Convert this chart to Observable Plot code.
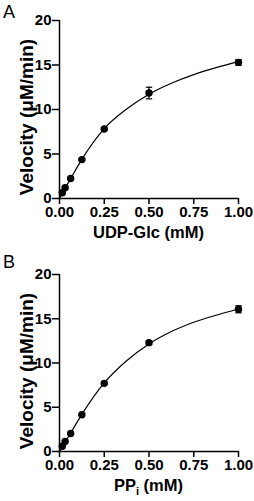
<!DOCTYPE html>
<html><head><meta charset="utf-8">
<script src="https://cdn.jsdelivr.net/npm/d3@7"></script>
<script src="https://cdn.jsdelivr.net/npm/@observablehq/plot@0.6"></script>
<style>
body{margin:0;background:#fff;}
#chart{width:254px;}
#chart svg{display:block;}
</style></head><body><div id="chart"></div>
<script>
// Substrate concentrations (mM)
const conc = [0.015625, 0.03125, 0.0625, 0.125, 0.25, 0.5, 1.0];
// Panel A: UDP-Glc
const velA = [0.64, 1.2, 2.24, 4.37, 7.81, 11.85, 15.29];
const errA = [0.05, 0.08, 0.1, 0.12, 0.15, 0.65, 0.32];
// Panel B: PPi
const velB = [0.6, 1.13, 2.04, 4.16, 7.7, 12.3, 16.07];
const errB = [0.05, 0.05, 0.1, 0.1, 0.15, 0.2, 0.4];
// Fitted curves
const fitX = [0, 0.03125, 0.0625, 0.125, 0.25, 0.375, 0.5, 0.625, 0.75, 0.875, 1.0];
const fitA = [0, 1.15, 2.25, 4.4, 7.85, 10.05, 11.72, 12.95, 13.92, 14.7, 15.38];
const fitB = [0, 1.05, 2.1, 4.2, 7.75, 10.25, 12.15, 13.55, 14.6, 15.4, 16.1];
const xTicks = [0, 0.25, 0.5, 0.75, 1.0];
const yTicks = [0, 5, 10, 15, 20];
const panelLabels = ["A", "B"];

const FONT = '"Liberation Sans", Arial, Helvetica, sans-serif';
const capSymbol = {draw(ctx, size) { const r = 3.2; ctx.moveTo(-r, 0); ctx.lineTo(r, 0); }};

function panel(vel, err, fit, h, mt, mb, letter, xlabelParts) {
  const data = conc.map((c, i) => ({c, v: vel[i], lo: vel[i] - err[i], hi: vel[i] + err[i]}));
  const curve = fitX.map((x, i) => ({x, y: fit[i]}));
  const p = Plot.plot({
    width: 254, height: h,
    marginLeft: 59, marginRight: 16, marginTop: mt, marginBottom: mb,
    style: {fontFamily: FONT, color: "#000", background: "#fff", overflow: "visible"},
    x: {domain: [0, 1]},
    y: {domain: [0, 20]},
    marks: [
      Plot.axisX({ticks: xTicks, tickFormat: () => "", tickSize: 6, label: null, strokeWidth: 1.5}),
      Plot.axisY({ticks: yTicks, tickFormat: () => "", tickSize: 7, label: null, strokeWidth: 1.5}),
      Plot.text(xTicks, {x: d => d, y: 0, dy: 14, text: d => d.toFixed(2), fontSize: 15, fontWeight: "bold", fill: "#000", lineAnchor: "middle"}),
      Plot.text(yTicks, {x: 0, y: d => d, dx: -8, text: d => String(d), fontSize: 15, fontWeight: "bold", fill: "#000", textAnchor: "end", lineAnchor: "middle"}),
      Plot.ruleX([0], {strokeWidth: 1.5}),
      Plot.ruleY([0], {strokeWidth: 1.5}),
      Plot.line(curve, {x: "x", y: "y", curve: "monotone-x", strokeWidth: 1.2, stroke: "#000"}),
      Plot.ruleX(data, {x: "c", y1: "lo", y2: "hi", strokeWidth: 1.2}),
      Plot.dot(data, {x: "c", y: "hi", symbol: capSymbol, stroke: "#000", strokeWidth: 1.2, fill: "none"}),
      Plot.dot(data, {x: "c", y: "lo", symbol: capSymbol, stroke: "#000", strokeWidth: 1.2, fill: "none"}),
      Plot.dot(data, {x: "c", y: "v", r: 3.7, fill: "#000", stroke: "none"})
    ]
  });
  const svg = d3.select(p);
  const fx = (59 + 238) / 2;
  svg.append("text").attr("x", 3).attr("y", 18).attr("text-anchor", "start").attr("font-size", 18).attr("font-weight", "normal").attr("font-family", FONT).text(letter);
  svg.append("text").attr("transform", `translate(33,${mt + 97}) rotate(-90)`).attr("text-anchor", "middle")
    .attr("font-size", 19).attr("font-weight", "bold").attr("font-family", FONT).text("Velocity (μM/min)");
  const t = svg.append("text").attr("x", fx).attr("y", h - mb + 40).attr("text-anchor", "middle")
    .attr("font-size", 16.5).attr("font-weight", "bold").attr("font-family", FONT);
  xlabelParts.forEach(([s, sub]) => {
    const ts = t.append("tspan").text(s);
    if (sub) ts.attr("font-size", 11).attr("dy", 4);
    else if (t.selectAll("tspan").size() > 1) ts.attr("dy", -4);
  });
  return p;
}

const root = document.getElementById("chart");
root.appendChild(panel(velA, errA, fitA, 250, 20, 52, panelLabels[0], [["UDP-Glc (mM)", false]]));
root.appendChild(panel(velB, errB, fitB, 251, 24, 50, panelLabels[1], [["PP", false], ["i", true], [" (mM)", false]]));
</script></body></html>
